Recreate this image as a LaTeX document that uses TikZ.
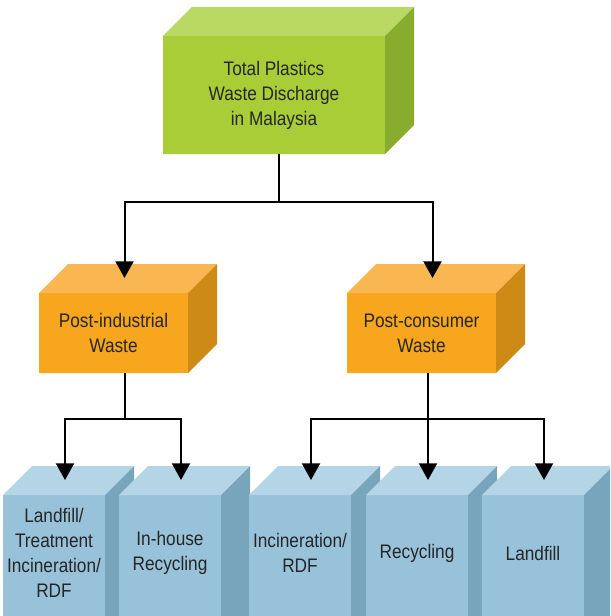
\documentclass[tikz,border=0pt]{standalone}
\usepackage{fontspec}
\setmainfont{Liberation Sans}[FakeStretch=0.88]
\usetikzlibrary{arrows.meta,positioning,calc}
\definecolor{limefront}{RGB}{168,205,55}
\definecolor{limetop}{RGB}{186,216,100}
\definecolor{limeside}{RGB}{136,172,45}
\definecolor{amberfront}{RGB}{247,166,30}
\definecolor{ambertop}{RGB}{250,182,80}
\definecolor{amberside}{RGB}{206,138,22}
\definecolor{skyfront}{RGB}{151,194,217}
\definecolor{skytop}{RGB}{180,213,230}
\definecolor{skyside}{RGB}{120,164,188}

% top and right faces of a box node; optional arg = drop below the page edge
\newcommand{\boxfaces}[3][0]{%
  \fill[#3top] (#2.north west) -- ++(29,-29) -- ($(#2.north east)+(29,-29)$) -- (#2.north east) -- cycle;
  \fill[#3side] (#2.north east) -- ++(29,-29) -- ($(#2.south east)+(29,#1-29)$) -- ($(#2.south east)+(0,#1)$) -- cycle;
  \fill[#3front] (#2.south west) rectangle ($(#2.south east)+(0,#1)$);
  \coordinate (#2-top) at ($(#2.north)+(11,-15)$);}

\begin{document}
\begin{tikzpicture}[
    x=0.75pt,y=-0.75pt,
    node distance=10.5pt,
    block/.style={rectangle,inner sep=2pt,outer sep=0pt,align=center,text=black!85,
      font=\fontsize{14.7}{18.75}\selectfont},
    totalbox/.style={block,fill=limefront,minimum width=166.5pt,minimum height=88.5pt},
    wastebox/.style={block,fill=amberfront,minimum width=111.75pt,minimum height=60pt},
    leafbox/.style={block,fill=skyfront,minimum width=76.5pt,minimum height=87pt},
    link/.style={line width=1.5pt},
    arrow/.style={link,-{Triangle[width=13.5pt,length=12.5pt]}}
  ]
    \clip (0,0) rectangle (610,616);

    \node[totalbox] (total) at (274,95) {Total Plastics\\Waste Discharge\\in Malaysia};
    \boxfaces{total}{lime}

    \node[wastebox] (postind) at (113.5,333) {Post-industrial\\Waste};
    \boxfaces{postind}{amber}
    \node[wastebox] (postcon) at (421.5,333) {Post-consumer\\Waste};
    \boxfaces{postcon}{amber}

    \node[leafbox] (fill1) at (54,553) {Landfill/\\Treatment\\Incineration/\\RDF};
    \boxfaces[40]{fill1}{sky}
    \node[leafbox,right=of fill1] (house) {In-house\\Recycling};
    \boxfaces[40]{house}{sky}
    \node[leafbox,right=21pt of house] (incin) {Incineration/\\RDF};
    \boxfaces[40]{incin}{sky}
    \node[leafbox,right=11.25pt of incin] (recyc) {Recycling};
    \boxfaces[40]{recyc}{sky}
    \node[leafbox,right=of recyc] (landf) {Landfill};
    \boxfaces[40]{landf}{sky}

    % connectors
    \coordinate (mid) at ($(postind-top)!0.5!(postcon-top)$);
    \draw[link] (total.south -| mid) -- ++(0,48) coordinate (j1);
    \draw[arrow] (j1) -| (postind-top);
    \draw[arrow] (j1) -| (postcon-top);

    \draw[link] (postind.south -| postind-top) -- ++(0,46) coordinate (j2);
    \draw[arrow] (j2) -| (fill1-top);
    \draw[arrow] (j2) -| (house-top);

    \draw[link] (postcon.south -| recyc-top) -- ++(0,46) coordinate (j3);
    \draw[arrow] (j3) -| (incin-top);
    \draw[arrow] (j3) -- (recyc-top);
    \draw[arrow] (j3) -| (landf-top);
\end{tikzpicture}
\end{document}
